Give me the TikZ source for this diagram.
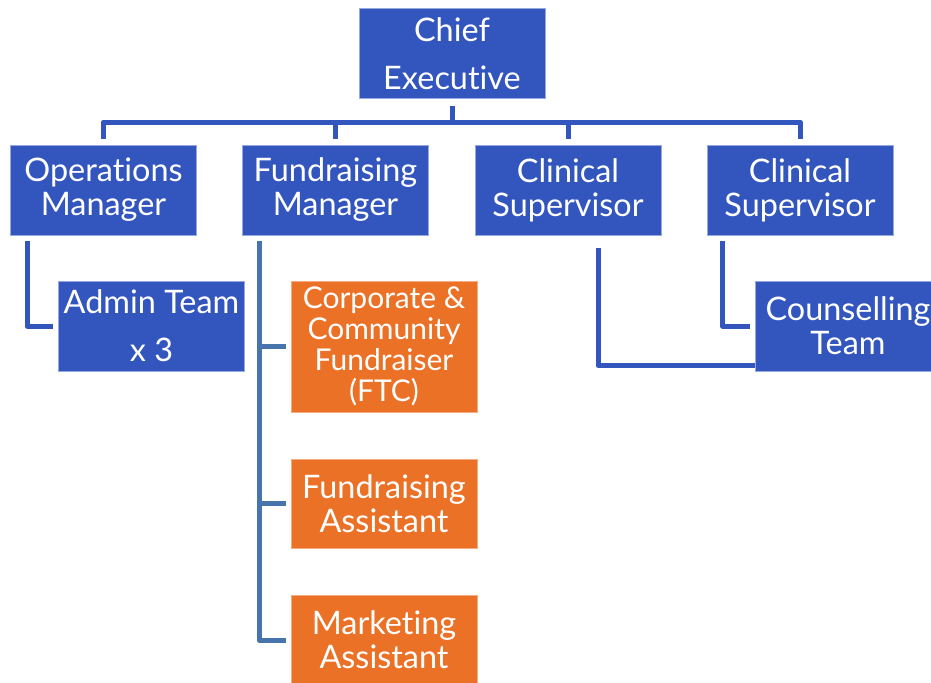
\documentclass[tikz,border=0pt]{standalone}
\usepackage{fontspec}
\setmainfont{Lato}[Ligatures=NoCommon]
\definecolor{boxblue}{RGB}{51,86,190}
\definecolor{boxorange}{RGB}{235,113,38}
\definecolor{edgeblue}{RGB}{150,170,225}
\definecolor{edgeorange}{RGB}{245,170,130}
\definecolor{steelline}{RGB}{72,116,172}
\tikzset{every picture/.style={line width=0.75pt}}
\tikzset{
  bluebox/.style={fill=boxblue, draw=edgeblue, line width=0.6pt, text=white, align=center, inner sep=0pt,
    minimum width=139.5pt, minimum height=67.5pt, font=\fontsize{24.3}{25.5}\selectfont},
  orangebox/.style={fill=boxorange, draw=edgeorange, line width=0.6pt, text=white, align=center, inner sep=0pt,
    minimum width=139.5pt, minimum height=67.5pt, font=\fontsize{24.3}{25.5}\selectfont},
  link/.style={draw=boxblue, line width=3.75pt, line join=round},
  flink/.style={draw=steelline, line width=3.75pt, line join=round}
}

\begin{document}
\begin{tikzpicture}[x=0.75pt,y=0.75pt,yscale=-1,xscale=1]
	\clip (0,0) rectangle (931,682);
	\fill[white] (0,0) rectangle (931,682);
	
	%Shape: Rectangle [id:ceo]
	\node (ceo) at (452,53.5) [bluebox, font=\fontsize{24.3}{36}\selectfont] {Chief\\Executive};
	%Shape: Rectangle [id:managers]
	\node (ops) at (103.5,190) [bluebox] {Operations\\Manager};
	\node (fund) at (335.5,190) [bluebox] {Fundraising\\Manager};
	\node (clin1) at (568,190) [bluebox] {Clinical\\Supervisor};
	\node (clin2) at (800,190) [bluebox] {Clinical\\Supervisor};
	%Shape: Rectangle [id:teams]
	\node (admin) at (151.5,326) [bluebox, font=\fontsize{24.3}{36}\selectfont] {Admin Team\\x 3};
	\node (couns) at (848,326) [bluebox] {Counselling\\Team};
	%Shape: Rectangle [id:fundraising staff]
	\node (corp) at (384,346.5) [orangebox, minimum height=98.25pt, font=\fontsize{22.5}{23.25}\selectfont] {Corporate \&\\Community\\Fundraiser\\(FTC)};
	\node (fasst) at (384,503.5) [orangebox, minimum height=66.75pt] {Fundraising\\Assistant};
	\node (mkt) at (384,640) [orangebox] {Marketing\\Assistant};
	
	%Straight Lines [id:bus]
	\coordinate (bus) at (452,122);
	\draw [link, shorten <=5.25pt] (ceo.south) -- (bus);
	\foreach \m in {ops,fund,clin1,clin2}
		\draw [link, shorten >=4.5pt] (bus) -| (\m.north);
	
	%Straight Lines [id:ops to admin]
	\draw [link] ([xshift=12.75pt,yshift=4.5pt]ops.south west) |- ([xshift=-3.75pt]admin.west);
	
	%Straight Lines [id:fundraising]
	\coordinate (fs) at ([xshift=12.75pt,yshift=4.5pt]fund.south west);
	\draw [flink] (fs) |- ([xshift=-3.75pt]mkt.west);
	\draw [flink] (fs |- corp.west) -- ([xshift=-3.75pt]corp.west);
	\draw [flink] (fs |- fasst.west) -- ([xshift=-3.75pt]fasst.west);
	
	%Straight Lines [id:clinical to counselling]
	\draw [link] ([xshift=22.5pt,yshift=9.75pt]clin1.south) |- ([yshift=-4.5pt]couns.south west);
	\draw [link] ([xshift=12pt,yshift=4.5pt]clin2.south west) |- ([xshift=-3.75pt]couns.west);
	
	% redraw box over line end
	\node at (couns) [bluebox] {Counselling\\Team};
	
\end{tikzpicture}
\end{document}
